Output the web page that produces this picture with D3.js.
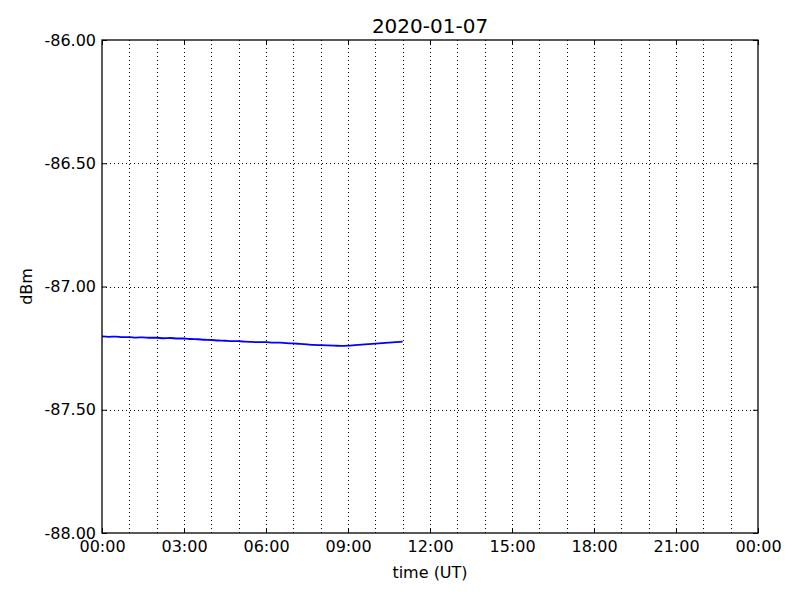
<!DOCTYPE html>
<html>
<head>
<meta charset="utf-8">
<script src="https://cdn.jsdelivr.net/npm/d3@7"></script>
<style>
body{margin:0;background:#fff;}
text{font-family:"DejaVu Sans",sans-serif;}
</style>
</head>
<body>
<svg id="c" width="800" height="600"></svg>
<script>
const title = "2020-01-07";
const xLabel = "time (UT)";
const yLabel = "dBm";
const xTickHours = [0,3,6,9,12,15,18,21,24];
const xTickLabels = ["00:00","03:00","06:00","09:00","12:00","15:00","18:00","21:00","00:00"];
const yTicks = [-88,-87.5,-87,-86.5,-86];
const yTickLabels = ["-88.00","-87.50","-87.00","-86.50","-86.00"];
const hours = [0,0.25,0.5,0.75,1,1.25,1.5,1.75,2,2.25,2.5,2.75,3,3.25,3.5,3.75,4,4.25,4.5,4.75,5,5.25,5.5,5.75,6,6.25,6.5,6.75,7,7.25,7.5,7.75,8,8.25,8.5,8.75,9,9.25,9.5,9.75,10,10.25,10.5,10.75,11];
const dbm = [-87.202,-87.204,-87.203,-87.205,-87.205,-87.207,-87.206,-87.208,-87.208,-87.210,-87.209,-87.211,-87.211,-87.213,-87.214,-87.216,-87.217,-87.219,-87.220,-87.222,-87.222,-87.224,-87.225,-87.226,-87.226,-87.228,-87.228,-87.230,-87.231,-87.233,-87.235,-87.237,-87.238,-87.239,-87.240,-87.241,-87.240,-87.238,-87.236,-87.234,-87.232,-87.230,-87.228,-87.226,-87.224];

const svg = d3.select("#c");
const L=102, R=758, T=40, B=533;
const x = d3.scaleLinear().domain([0,24]).range([L,R]);
const y = d3.scaleLinear().domain([-88,-86]).range([B,T]);

// grid
const hourGrid = d3.range(1,24);
svg.append("g").selectAll("line").data(hourGrid).join("line")
  .attr("x1",d=>Math.round(x(d))+0.5).attr("x2",d=>Math.round(x(d))+0.5)
  .attr("y1",T).attr("y2",B)
  .attr("stroke","#000").attr("stroke-width",1).attr("stroke-dasharray","1,3");
svg.append("g").selectAll("line").data(yTicks.slice(1,-1)).join("line")
  .attr("y1",d=>Math.round(y(d))+0.5).attr("y2",d=>Math.round(y(d))+0.5)
  .attr("x1",L).attr("x2",R)
  .attr("stroke","#000").attr("stroke-width",1).attr("stroke-dasharray","1,3");

// data line
const line = d3.line().x((d,i)=>x(hours[i])).y(d=>y(d)).curve(d3.curveMonotoneX);
svg.append("path").datum(dbm).attr("d",line)
  .attr("fill","none").attr("stroke","#0000ff").attr("stroke-width",1.8);

// axes
const xAxis = d3.axisBottom(x).tickValues(xTickHours).tickFormat((d,i)=>xTickLabels[i]).tickSizeInner(-5).tickSizeOuter(0).tickPadding(8);
svg.append("g").attr("transform",`translate(0,${B})`).call(xAxis);
const yAxis = d3.axisLeft(y).tickValues(yTicks).tickFormat((d,i)=>yTickLabels[i]).tickSizeInner(-5).tickSizeOuter(0).tickPadding(6);
svg.append("g").attr("transform",`translate(${L},0)`).call(yAxis);
const xTop = d3.axisTop(x).tickValues(xTickHours).tickFormat("").tickSizeInner(-5).tickSizeOuter(0);
svg.append("g").attr("transform",`translate(0,${T})`).call(xTop);
const yRight = d3.axisRight(y).tickValues(yTicks).tickFormat("").tickSizeInner(-5).tickSizeOuter(0);
svg.append("g").attr("transform",`translate(${R},0)`).call(yRight);
svg.selectAll(".domain").remove();
svg.selectAll(".tick line").attr("stroke","#000");
svg.selectAll(".tick text").attr("font-size",16).attr("fill","#000").attr("font-family","DejaVu Sans");

// frame
svg.append("rect").attr("x",L).attr("y",T).attr("width",R-L).attr("height",B-T)
  .attr("fill","none").attr("stroke","#000").attr("stroke-width",1.3);

svg.append("text").attr("x",(L+R)/2).attr("y",33).attr("text-anchor","middle")
  .attr("font-size",20).text(title);
svg.append("text").attr("x",(L+R)/2).attr("y",578).attr("text-anchor","middle")
  .attr("font-size",16).text(xLabel);
svg.append("text").attr("transform",`translate(32,${(T+B)/2}) rotate(-90)`).attr("text-anchor","middle")
  .attr("font-size",16).text(yLabel);
</script>
</body>
</html>
